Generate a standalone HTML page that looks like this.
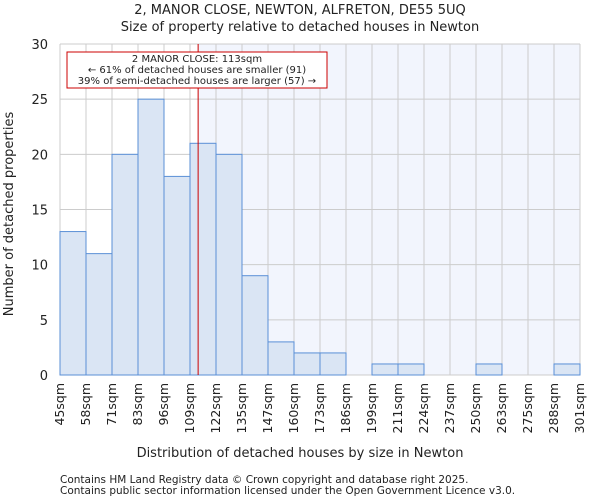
<!DOCTYPE html>
<html><head><meta charset="utf-8"><style>
body{margin:0;background:#fff;font-family:"DejaVu Sans","Liberation Sans",sans-serif;}
svg text{font-family:"DejaVu Sans","Liberation Sans",sans-serif;fill:#222;}
</style></head><body>
<svg id="c" width="600" height="500"></svg>
<script>
const categories=["45sqm","58sqm","71sqm","83sqm","96sqm","109sqm","122sqm","135sqm","147sqm","160sqm","173sqm","186sqm","199sqm","211sqm","224sqm","237sqm","250sqm","263sqm","275sqm","288sqm","301sqm"];
const counts=[13,11,20,25,18,21,20,9,3,2,2,0,1,1,0,0,1,0,0,1];
const yTicks=[0,5,10,15,20,25,30];
const markerValue=113;
const xMin=45,xMax=301,yMax=30;
const L=60,R=580,T=44,B=375;
const sx=v=>L+(v-xMin)/(xMax-xMin)*(R-L);
const sy=v=>B-v/yMax*(B-T);
const svg=document.getElementById('c');
const NS="http://www.w3.org/2000/svg";
function mk(t,a,txt){const e=document.createElementNS(NS,t);for(const k in a)e.setAttribute(k,a[k]);if(txt!=null)e.textContent=txt;svg.appendChild(e);return e;}
const mx=sx(markerValue);
let e=mk('rect',{x:mx,y:T,width:R-mx,height:B-T,fill:'#f2f5fd'});


const bw=(R-L)/counts.length;
for(let i=0;i<=counts.length;i++){e=mk('line',{x1:L+i*bw,x2:L+i*bw,y1:T,y2:B,stroke:'#cccccc'});

}
yTicks.forEach(t=>{e=mk('line',{x1:L,x2:R,y1:sy(t),y2:sy(t),stroke:'#cccccc'});


e=mk('text',{x:L-12,y:sy(t)+5,'text-anchor':'end','font-size':13},t);

});
counts.forEach((c,i)=>{if(c<=0)return;e=mk('rect',{x:L+i*bw,y:sy(c),width:bw,height:B-sy(c),fill:'#dae5f4',stroke:'#5a8fd6','stroke-width':1});

});
categories.forEach((c,i)=>{const x=L+i*bw;e=mk('text',{x:x+4,y:383,'text-anchor':'end','font-size':12.5,transform:`rotate(-90 ${x+4} 383)`},c);

});
e=mk('line',{x1:mx,x2:mx,y1:T,y2:B,stroke:'#cc0000','stroke-width':1});


e=mk('rect',{x:67,y:52,width:260,height:36,fill:'#fff',stroke:'#cc0000'});


[["2 MANOR CLOSE: 113sqm",62],["← 61% of detached houses are smaller (91)",73],["39% of semi-detached houses are larger (57) →",84]].forEach(a=>{e=mk('text',{x:197,y:a[1],'text-anchor':'middle','font-size':10},a[0]);

});
e=mk('text',{x:300,y:14,'text-anchor':'middle','font-size':13},"2, MANOR CLOSE, NEWTON, ALFRETON, DE55 5UQ");


e=mk('text',{x:300,y:31,'text-anchor':'middle','font-size':13},"Size of property relative to detached houses in Newton");


e=mk('text',{x:300,y:457,'text-anchor':'middle','font-size':13},"Distribution of detached houses by size in Newton");


e=mk('text',{x:13,y:214,'text-anchor':'middle','font-size':13,transform:'rotate(-90 13 214)'},"Number of detached properties");


e=mk('text',{x:60,y:483,'font-size':10.5,fill:'#444'},"Contains HM Land Registry data © Crown copyright and database right 2025.");


e=mk('text',{x:60,y:494,'font-size':10.5,fill:'#444'},"Contains public sector information licensed under the Open Government Licence v3.0.");


</script>
</body></html>
